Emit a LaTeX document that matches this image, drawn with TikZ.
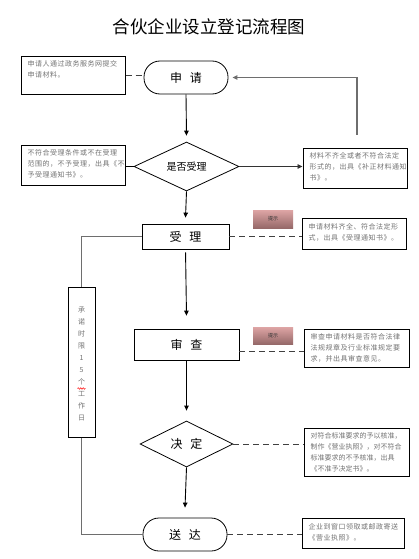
\documentclass[tikz,border=0pt]{standalone}
\usepackage{fontspec}
\newfontfamily\cjk{Noto Sans CJK SC}
\newfontfamily\cjkwide{Noto Sans CJK SC}[LetterSpace=7]
\usetikzlibrary{shapes.geometric,arrows.meta,decorations.pathmorphing}
\definecolor{notegray}{RGB}{115,115,115}
\definecolor{linegray}{RGB}{110,110,110}
\definecolor{tagtop}{RGB}{222,165,165}
\definecolor{tagbot}{RGB}{150,105,105}
\tikzset{
  notebox/.style={draw, line width=1pt, inner sep=0pt},
  notetext/.style={anchor=north west, inner sep=0pt, align=left, text=notegray,
    font=\cjkwide\fontsize{7}{10.8}\selectfont},
  mainbox/.style={draw, line width=0.8pt, inner sep=0pt, font=\cjk\fontsize{12}{12}\selectfont},
  stadium/.style={mainbox, rounded corners=16pt},
  decision/.style={mainbox, diamond, aspect=2},
  tagbox/.style={inner sep=0pt, top color=tagtop, bottom color=tagbot, draw=none,
    font=\cjk\fontsize{5}{5}\selectfont, text=black!80},
  flow/.style={line width=0.9pt, -{Triangle[length=5pt,width=4.5pt]}},
  loop/.style={line width=1.2pt, draw=linegray},
  dashline/.style={line width=1pt, draw=black!75, dash pattern=on 6pt off 4pt}
}
\begin{document}
\begin{tikzpicture}[x=1pt,y=-1pt]
\useasboundingbox (0,0) rectangle (419,559);
\fill[white] (0,0) rectangle (419,559);

% title
\node[font=\cjk\fontsize{17.5}{17.5}\selectfont] (title) at (209,27) {合伙企业设立登记流程图};

% main flow
\node[stadium, minimum width=84pt, minimum height=33pt] (sq) at (186,77.5) {申\hspace{8pt}请};
\node[decision, minimum width=105pt, minimum height=49pt, font=\cjk\fontsize{10}{10}\selectfont] (d1) at (186.5,166.5) {是否受理};
\node[mainbox, minimum width=87pt, minimum height=25pt] (sl) at (185.5,236.5) {受\hspace{8pt}理};
\node[mainbox, minimum width=105pt, minimum height=31pt] (sc) at (186.5,344.5) {审\hspace{8pt}查};
\node[decision, minimum width=93pt, minimum height=46pt] (jd) at (186.5,444) {决\hspace{8pt}定};
\node[stadium, minimum width=84pt, minimum height=33pt] (sd) at (185,534.5) {送\hspace{8pt}达};

% notes
\node[notebox, minimum width=104pt, minimum height=38pt] (n1) at (73,76) {};
\node[notetext] at ([xshift=7pt,yshift=-4pt]n1.north west) {申请人通过政务服务网提交\\申请材料。};
\node[notebox, minimum width=104pt, minimum height=40pt] (n2) at (73,165) {};
\node[notetext] at ([xshift=7pt,yshift=-5pt]n2.north west) {不符合受理条件或不在受理\\范围的，不予受理，出具《不\\予受理通知书》。};
\node[notebox, minimum width=104pt, minimum height=40pt] (n3) at (355,168) {};
\node[notetext] at ([xshift=7pt,yshift=-5pt]n3.north west) {材料不齐全或者不符合法定\\形式的，出具《补正材料通知\\书》。};
\node[notebox, minimum width=104pt, minimum height=31pt] (n4) at (354,233.5) {};
\node[notetext] at ([xshift=7pt,yshift=-6pt]n4.north west) {申请材料齐全、符合法定形\\式，出具《受理通知书》。};
\node[notebox, minimum width=105pt, minimum height=38pt] (n5) at (356.5,348) {};
\node[notetext] at ([xshift=7pt,yshift=-5pt]n5.north west) {审查申请材料是否符合法律\\法规规章及行业标准规定要\\求，并出具审查意见。};
\node[notebox, minimum width=105pt, minimum height=48pt] (n6) at (356.5,452) {};
\node[notetext, font=\cjk\fontsize{7}{10.8}\selectfont] at ([xshift=7pt,yshift=-5pt]n6.north west) {对符合标准要求的予以核准，\\制作《营业执照》，对不符合\\标准要求的不予核准，出具\\《不准予决定书》。};
\node[notebox, minimum width=102pt, minimum height=30pt] (n7) at (353,533) {};
\node[notetext] at ([xshift=7pt,yshift=-6pt]n7.north west) {企业到窗口领取或邮政寄送\\《营业执照》。};

% tags
\node[tagbox, minimum width=40pt, minimum height=18pt] (t1) at (273,219) {提示};
\node[tagbox, minimum width=40pt, minimum height=17pt] (t2) at (273,335.5) {提示};

% time-limit box
\node[notebox, minimum width=27pt, minimum height=150pt] (cn) at (81.5,362) {};
\node[inner sep=0pt, align=center, text=notegray, font=\cjk\fontsize{7}{12}\selectfont] (cnt) at (81.5,364) {承\\诺\\时\\限\\1\\5\\个\\工\\作\\日};
\draw[red, line width=0.5pt, decorate, decoration={snake, amplitude=0.8pt, segment length=2.5pt}] (77.5,388.5) -- (85.5,388.5);

% connectors
\draw[dashline] (n1.east) -- (sq.west |- n1.east);
\draw[flow] (sq.south) -- ([yshift=6pt]d1.north);
\draw[line width=1pt] (d1.west) -- (n2.east |- d1.west);
\draw[flow, draw=black!80] (d1.east) -- (n3.west |- d1.east);
\draw[loop, -{Triangle[length=5pt,width=4.5pt]}, shorten <=13pt, shorten >=4pt] ([xshift=2pt]n3.north) |- (sq.east);
\draw[flow] (d1.south) -- ([yshift=6pt]sl.north);
\draw[dashline] (sl.east) -- (n4.west |- sl.east);
\draw[loop] (sl.west) -| (cn.north);
\draw[loop] (cn.south) |- (sd.west);
\draw[flow, shorten <=3pt] (sl.south) -- ([yshift=13pt]sc.north);
\draw[dashline] ([yshift=-7pt]sc.east) -- ([yshift=-7pt]sc.east -| n5.west);
\draw[flow] (sc.south) -- ([yshift=10pt]jd.north);
\draw[dashline] (jd.east) -- (n6.west |- jd.east);
\draw[flow] (jd.south) -- ([yshift=10pt]sd.north);
\draw[dashline] (sd.east) -- (sd.east -| n7.west);
\end{tikzpicture}
\end{document}
